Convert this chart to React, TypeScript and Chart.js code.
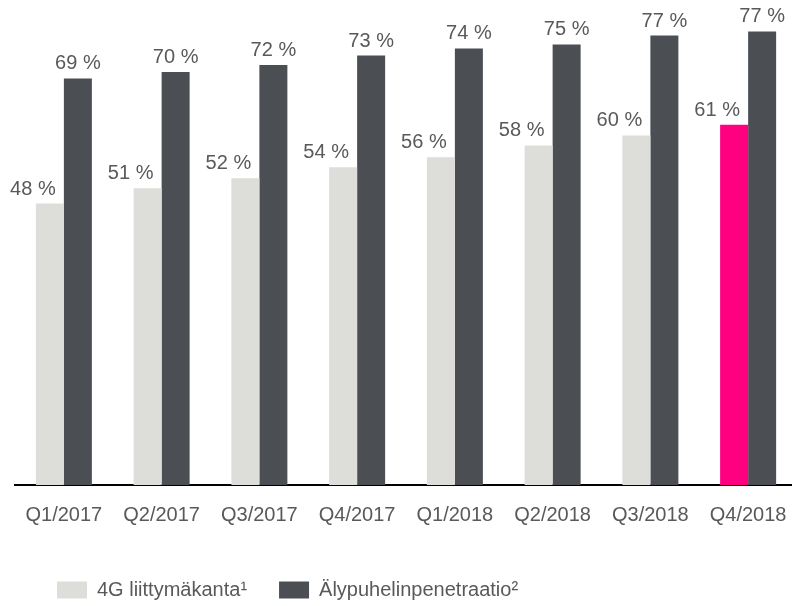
import React, { useEffect, useRef } from "react";
import { Chart, registerables } from "chart.js";

Chart.register(...registerables);

const categories = ["Q1/2017", "Q2/2017", "Q3/2017", "Q4/2017", "Q1/2018", "Q2/2018", "Q3/2018", "Q4/2018"];
const series4G = [47.9, 50.5, 52.2, 54.1, 55.8, 57.8, 59.5, 61.3];
const seriesSmart = [69.2, 70.3, 71.5, 73.1, 74.3, 75.0, 76.5, 77.2];
const seriesNames = ["4G liittymäkanta¹", "Älypuhelinpenetraatio²"];

const LIGHT = "#DDDDD9";
const DARK = "#4B4F54";
const PINK = "#FF0080";
const TEXT = "#595959";
const FONT = "'Liberation Sans', Arial, sans-serif";

const labelPlugin = {
  id: "valueLabels",
  afterDatasetsDraw(chart: any) {
    const ctx = chart.ctx;
    ctx.save();
    ctx.font = `20px ${FONT}`;
    ctx.fillStyle = TEXT;
    ctx.textAlign = "center";
    ctx.textBaseline = "alphabetic";
    chart.data.datasets.forEach((ds: any, di: number) => {
      const meta = chart.getDatasetMeta(di);
      meta.data.forEach((el: any, i: number) => {
        const v = ds.data[i];
        const dx = di === 0 ? -17 : 0;
        ctx.fillText(`${Math.round(v)} %`, el.x + dx, el.y - 9);
      });
    });
    ctx.restore();
  },
};

const legendShift = {
  id: "legendShift",
  afterLayout(chart: any) {
    if (chart.legend) {
      chart.legend.left += 10;
      chart.legend.right += 10;
    }
  },
};

export default function App() {
  const ref = useRef<HTMLCanvasElement>(null);
  useEffect(() => {
    const canvas = ref.current!;
    const chart = new Chart(canvas, {
      type: "bar",
      data: {
        labels: categories,
        datasets: [
          {
            label: seriesNames[0],
            data: series4G,
            backgroundColor: series4G.map((_, i) => (i === series4G.length - 1 ? PINK : LIGHT)),
            categoryPercentage: 0.573,
            barPercentage: 1,
          },
          {
            label: seriesNames[1],
            data: seriesSmart,
            backgroundColor: DARK,
            categoryPercentage: 0.573,
            barPercentage: 1,
          },
        ],
      },
      options: {
        responsive: false,
        animation: false,
        layout: { padding: { left: 15, right: 3, top: 15, bottom: 0 } },
        scales: {
          x: {
            grid: { display: false },
            border: { display: true, color: "#000000", width: 2 },
            ticks: { color: TEXT, font: { family: FONT, size: 20 }, padding: 10, maxRotation: 0, autoSkip: false },
            afterFit: (s: any) => {
              s.height += 11;
            },
          },
          y: { display: false, min: 0, max: 80 },
        },
        plugins: {
          legend: {
            position: "bottom",
            align: "start",
            labels: {
              boxWidth: 30,
              boxHeight: 17,
              padding: 32,
              color: TEXT,
              font: { family: FONT, size: 20 },
            },
          },
          tooltip: { enabled: false },
        },
      },
      plugins: [labelPlugin, legendShift],
    });
    return () => chart.destroy();
  }, []);
  return (
    <div style={{ position: "fixed", left: 0, top: 0, width: 792, height: 606, overflow: "hidden", background: "#fff" }}>
      <canvas ref={ref} width={800} height={610} style={{ width: 800, height: 610, display: "block" }} />
    </div>
  );
}
